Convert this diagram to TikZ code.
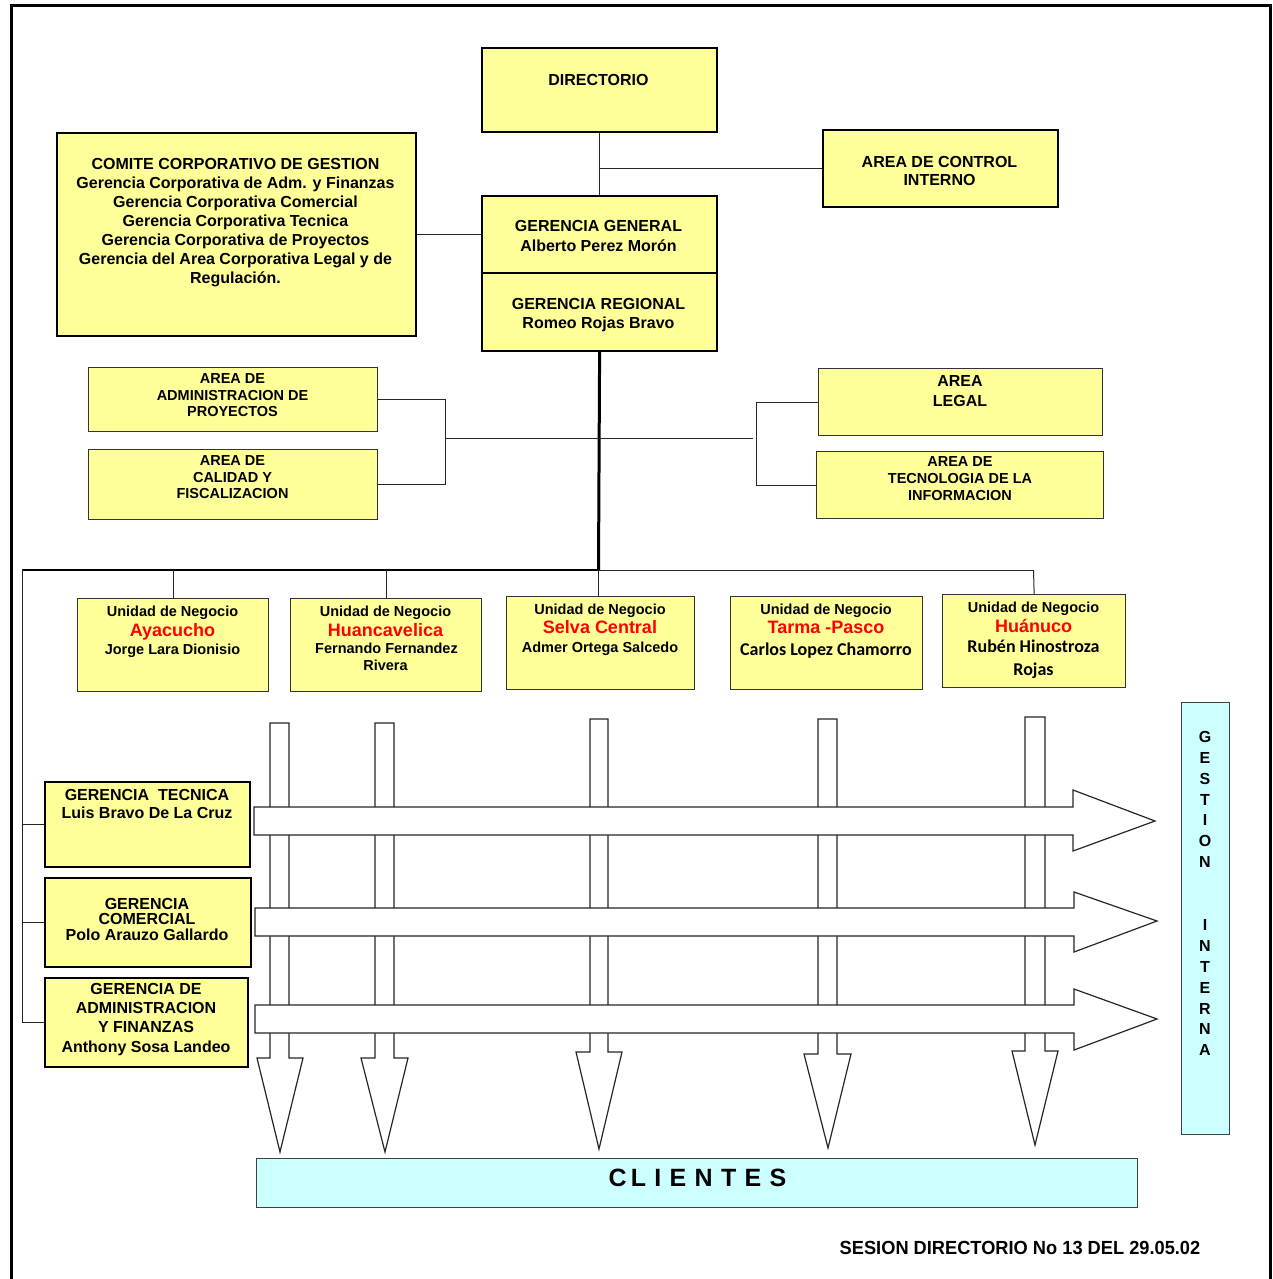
\documentclass[tikz,border=0pt]{standalone}
\usepackage{fontspec}
\setmainfont{Liberation Sans}
\newfontfamily\calfont{Carlito}
\definecolor{yel}{HTML}{FFFF99}
\definecolor{cya}{HTML}{CCFFFF}
\definecolor{rd}{HTML}{FF0000}
\newcommand\fz[2]{\fontsize{#1}{#2}\selectfont}
\begin{document}
\begin{tikzpicture}[x=1pt,y=-1pt,
  ybox/.style={draw=black, fill=yel, line width=2.2pt, inner sep=0pt, anchor=north west},
  ythin/.style={draw=black!80, fill=yel, line width=1.3pt, inner sep=0pt, anchor=north west},
  cbox/.style={draw=black!75, fill=cya, line width=1.3pt, inner sep=0pt, anchor=north west},
  txt/.style={inner sep=0pt, align=center, anchor=north, font=\bfseries},
  ln/.style={inner sep=0pt, anchor=base, font=\bfseries},
  conn/.style={draw=black!85, line width=1pt},
  arr/.style={draw=black!85, fill=white, line width=1.2pt, line join=miter}]
\useasboundingbox (0,0) rectangle (1273,1279);
% frame
\draw[line width=3pt] (11,1281) -- (11,6) -- (1270,6) -- (1270,1281);

% top boxes
\node[ybox, minimum width=235, minimum height=84] (dir) at (481,47) {};
\node[txt, font=\bfseries\fz{16}{19}] (dirt) at (598.5,74) {DIRECTORIO};
\node[ybox, minimum width=235, minimum height=77] (ctrl) at (822,129) {};
\node[txt, font=\bfseries\fz{16}{18}] (ctrlt) at (939.5,156) {AREA DE CONTROL\\INTERNO};
\node[ybox, minimum width=235, minimum height=77] (gg) at (481,195) {};
\node[txt, font=\bfseries\fz{16}{20}] (ggt) at (598.5,220) {GERENCIA GENERAL\\Alberto Perez Morón};
\node[ybox, minimum width=235, minimum height=78] (gr) at (481,272) {};
\node[txt, font=\bfseries\fz{16}{19}] (grt) at (598.5,298) {GERENCIA REGIONAL\\Romeo Rojas Bravo};
\node[ybox, minimum width=359, minimum height=203] (com) at (56,132) {};
\node[txt, font=\bfseries\fz{16}{19}] (comt) at (235.5,158) {COMITE CORPORATIVO DE GESTION\\Gerencia Corporativa de Adm. y Finanzas\\Gerencia Corporativa Comercial\\Gerencia Corporativa Tecnica\\Gerencia Corporativa de Proyectos\\Gerencia del Area Corporativa Legal y de\\Regulación.};

% area boxes
\node[ythin, minimum width=289, minimum height=64] (proy) at (88,367) {};
\node[txt, font=\bfseries\fz{14.5}{16.5}] (proyt) at (232.5,373.8) {AREA DE\\ADMINISTRACION DE\\PROYECTOS};
\node[ythin, minimum width=289, minimum height=70] (cal) at (88,449) {};
\node[txt, font=\bfseries\fz{14.5}{16.5}] (calt) at (232.5,455.8) {AREA DE\\CALIDAD Y\\FISCALIZACION};
\node[ythin, minimum width=284, minimum height=67] (leg) at (818,368) {};
\node[txt, font=\bfseries\fz{16}{20}] (legt) at (960,375) {AREA\\LEGAL};
\node[ythin, minimum width=287, minimum height=67] (ti) at (816,451) {};
\node[txt, font=\bfseries\fz{14.5}{17}] (tit) at (960,456.8) {AREA DE\\TECNOLOGIA DE LA\\INFORMACION};

% business units
\node[ythin, minimum width=191, minimum height=93] (un1) at (77,598) {};
\node[ln, font=\bfseries\fz{14.5}{17}] (un1a) at (172.5,616.2) {Unidad de Negocio};
\node[ln, font=\bfseries\fz{18}{20}, text=rd] (un1b) at (172.5,636.5) {Ayacucho};
\node[ln, font=\bfseries\fz{14.5}{17}] (un1c) at (172.5,654.2) {Jorge Lara Dionisio};

\node[ythin, minimum width=191, minimum height=93] (un2) at (290,598) {};
\node[ln, font=\bfseries\fz{14.5}{17}] (un2a) at (385.5,616.2) {Unidad de Negocio};
\node[ln, font=\bfseries\fz{18}{20}, text=rd] (un2b) at (385.5,636.5) {Huancavelica};
\node[ln, font=\bfseries\fz{14.5}{17}] (un2c) at (386.5,653.2) {Fernando Fernandez};
\node[ln, font=\bfseries\fz{14.5}{17}] (un2d) at (385.5,670.2) {Rivera};

\node[ythin, minimum width=188, minimum height=93] (un3) at (506,596) {};
\node[ln, font=\bfseries\fz{14.5}{17}] (un3a) at (600,614.2) {Unidad de Negocio};
\node[ln, font=\bfseries\fz{18}{20}, text=rd] (un3b) at (600,633.5) {Selva Central};
\node[ln, font=\bfseries\fz{14.5}{17}] (un3c) at (600,652.2) {Admer Ortega Salcedo};

\node[ythin, minimum width=192, minimum height=93] (un4) at (730,596) {};
\node[ln, font=\bfseries\fz{14.5}{17}] (un4a) at (826,614.2) {Unidad de Negocio};
\node[ln, font=\bfseries\fz{18}{20}, text=rd] (un4b) at (826,633.5) {Tarma -Pasco};
\node[ln, font=\calfont\bfseries\fz{18}{20}] (un4c) at (826,655.8) {Carlos Lopez Chamorro};

\node[ythin, minimum width=183, minimum height=93] (un5) at (942,594) {};
\node[ln, font=\bfseries\fz{14.5}{17}] (un5a) at (1033.5,612.2) {Unidad de Negocio};
\node[ln, font=\bfseries\fz{18}{20}, text=rd] (un5b) at (1033.5,632.5) {Huánuco};
\node[ln, font=\calfont\bfseries\fz{18}{20}] (un5c) at (1033.5,652.8) {Rubén Hinostroza};
\node[ln, font=\calfont\bfseries\fz{18}{20}] (un5d) at (1033.5,675.8) {Rojas};

% gerencias
\node[ybox, minimum width=205, minimum height=85] (gt) at (44,781) {};
\node[txt, font=\bfseries\fz{16}{18}] (gtt) at (147,789) {GERENCIA\ \ TECNICA\\Luis Bravo De La Cruz};
\node[ybox, minimum width=206, minimum height=89] (gc) at (44,877) {};
\node[txt, font=\bfseries\fz{16}{15.5}] (gct) at (147,898) {GERENCIA\\COMERCIAL\\Polo Arauzo Gallardo};
\node[ybox, minimum width=203, minimum height=89] (ga) at (44,977) {};
\node[txt, font=\bfseries\fz{16}{19.3}] (gat) at (146,983) {GERENCIA DE\\ADMINISTRACION\\Y FINANZAS\\Anthony Sosa Landeo};

% connectors
\draw[conn] (dir.south) -- (gg.north);
\draw[conn] (ctrl.west) -- (ctrl.west -| dir.south);
\draw[conn] (com.east) -- (gg.west);
\coordinate (j1) at (598.5,570);
\coordinate (jl) at (22,570);
\coordinate (jr) at (1033.5,570);
\draw[draw=black, line width=3pt] (gr.south) -- (j1);
\coordinate (bl) at (445,438);
\coordinate (br) at (753,438);
\draw[conn] (proy.east) -- (proy.east -| bl) -- (cal.east -| bl) -- (cal.east);
\draw[conn] (bl) -- (br);
\coordinate (brx) at (756.5,438);
\draw[conn] (leg.west) -- (leg.west -| brx) -- (ti.west -| brx) -- (ti.west);
\draw[draw=black, line width=2.2pt] (jl) -- (j1);
\draw[conn] (j1) -- (jr);
\draw[conn] (un1.north) -- (un1.north |- j1);
\draw[conn] (un2.north) -- (un2.north |- j1);
\draw[conn] (j1) -- (un3.north -| j1);
\draw[conn] (un5.north) -- (jr);
\draw[conn] (jl) -- (ga.west -| jl) -- (ga.west);
\draw[conn] (gt.west -| jl) -- (gt.west);
\draw[conn] (gc.west -| jl) -- (gc.west);

% vertical (down) arrows
\draw[arr] (270,723) -- (289,723) -- (289,1058) -- (303,1058) -- (280,1152) -- (257,1058) -- (270,1058) -- cycle;
\draw[arr] (375,723) -- (394,723) -- (394,1058) -- (408,1058) -- (385,1152) -- (361,1058) -- (375,1058) -- cycle;
\draw[arr] (590,719) -- (608,719) -- (608,1052) -- (622,1052) -- (599,1149) -- (576,1052) -- (590,1052) -- cycle;
\draw[arr] (818,719) -- (837,719) -- (837,1054) -- (851,1054) -- (828,1148) -- (804,1054) -- (818,1054) -- cycle;
\draw[arr] (1025,717) -- (1045,717) -- (1045,1051) -- (1058,1051) -- (1035,1145) -- (1012,1051) -- (1025,1051) -- cycle;

% horizontal (right) arrows
\draw[arr] (254,807) -- (1073,807) -- (1073,790) -- (1155,821) -- (1073,851) -- (1073,835) -- (254,835) -- cycle;
\draw[arr] (255,908) -- (1074,908) -- (1074,892) -- (1157,921) -- (1074,952) -- (1074,936) -- (255,936) -- cycle;
\draw[arr] (255,1005) -- (1074,1005) -- (1074,989) -- (1157,1019) -- (1074,1050) -- (1074,1033) -- (255,1033) -- cycle;

% gestion interna
\node[cbox, minimum width=48, minimum height=432] (gi) at (1181,702) {};
\node[txt, font=\bfseries\fz{16}{20.9}] (git) at (1205,731) {G\\E\\S\\T\\I\\O\\N\\[41.8pt]I\\N\\T\\E\\R\\N\\A};

% clientes
\node[cbox, minimum width=881, minimum height=49] (cli) at (256,1158) {};
\node[ln, font=\bfseries\fz{25}{28}] (clit) at (697.5,1186.5) {C\,L\,\,I\,\,E\,\,N\,\,T\,\,E\,\,S};

% footer
\node[ln, font=\bfseries\fz{19}{21}] (foot) at (1020,1254) {\scalebox{0.96}[1]{SESION DIRECTORIO No 13 DEL 29.05.02}};
\end{tikzpicture}
\end{document}
